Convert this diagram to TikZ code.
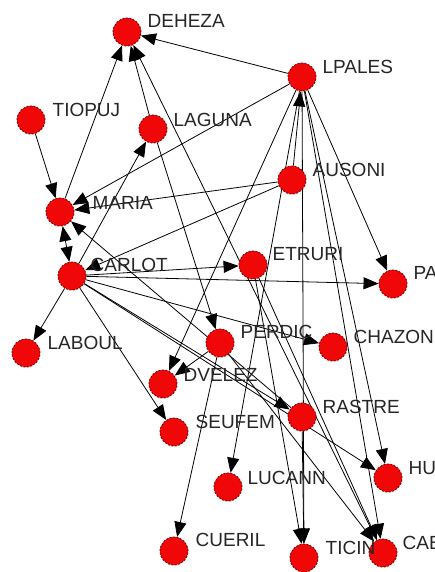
\documentclass[tikz,border=0pt]{standalone}
\usepackage{fontspec}
\setmainfont{Liberation Sans}
\usetikzlibrary{arrows.meta, positioning, backgrounds}
\definecolor{nodered}{RGB}{240, 8, 8}
\definecolor{noderim}{RGB}{135, 0, 0}
\tikzset{
  actor/.style={circle, fill=nodered, draw=noderim, line width=0.9pt,
    dash pattern=on 2pt off 1.5pt, minimum size=28pt, inner sep=0pt},
  tag/.style={font=\fontsize{19}{19}\selectfont, text=black!85, inner sep=0pt},
  tie/.style={draw=black, line width=0.8pt, -{Triangle[length=15pt, width=12pt]}},
  tiepair/.style={draw=black, line width=0.8pt,
    {Triangle[length=15pt, width=12pt]}-{Triangle[length=15pt, width=12pt]}},
}
\begin{document}
\begin{tikzpicture}[x=1pt, y=-1pt]
  \useasboundingbox (0,0) rectangle (435,572);

  % actors
  \node[actor] (deheza) at (127, 32) {};
  \node[actor] (lpales) at (302, 77) {};
  \node[actor] (tiopuj) at ( 31,120) {};
  \node[actor] (laguna) at (153,129) {};
  \node[actor] (ausoni) at (292,180) {};
  \node[actor] (maria)  at ( 60,212) {};
  \node[actor] (carlot) at ( 72,276) {};
  \node[actor] (etruri) at (253,265) {};
  \node[actor] (pa)     at (393,284) {};
  \node[actor] (laboul) at ( 26,353) {};
  \node[actor] (perdic) at (220,343) {};
  \node[actor] (chazon) at (333,347) {};
  \node[actor] (dvelez) at (163,384) {};
  \node[actor] (seufem) at (174,432) {};
  \node[actor] (rastre) at (302,417) {};
  \node[actor] (hu)     at (388,478) {};
  \node[actor] (lucann) at (228,487) {};
  \node[actor] (cueril) at (174,551) {};
  \node[actor] (ticin)  at (304,558) {};
  \node[actor] (cab)    at (383,553) {};

  % names
  \node[tag, right=6pt of deheza, yshift=11pt] (deheza-t) {DEHEZA};
  \node[tag, right=6pt of lpales, yshift=10pt] (lpales-t) {LPALES};
  \node[tag, right=7pt of tiopuj, yshift=10pt] (tiopuj-t) {TIOPUJ};
  \node[tag, right=6pt of laguna, yshift=9pt]  (laguna-t) {LAGUNA};
  \node[tag, right=6pt of ausoni, yshift=10pt] (ausoni-t) {AUSONI};
  \node[tag, right=18pt of maria, yshift=9pt]  (maria-t)  {MARIA};
  \node[tag, right=4pt of carlot, yshift=11pt] (carlot-t) {CARLOT};
  \node[tag, right=5pt of etruri, yshift=11pt] (etruri-t) {ETRURI};
  \node[tag, right=6pt of pa, yshift=11pt]     (pa-t)     {PA};
  \node[tag, right=7pt of laboul, yshift=10pt] (laboul-t) {LABOUL};
  \node[tag, right=6pt of perdic, yshift=11pt] (perdic-t) {PERDIC};
  \node[tag, right=6pt of chazon, yshift=10pt] (chazon-t) {CHAZON};
  \node[tag, right=6pt of dvelez, yshift=9pt]  (dvelez-t) {DVELEZ};
  \node[tag, right=7pt of seufem, yshift=10pt] (seufem-t) {SEUFEM};
  \node[tag, right=6pt of rastre, yshift=10pt] (rastre-t) {RASTRE};
  \node[tag, right=6pt of hu, yshift=10pt]     (hu-t)     {HU};
  \node[tag, right=5pt of lucann, yshift=9pt]  (lucann-t) {LUCANN};
  \node[tag, right=7pt of cueril, yshift=11pt] (cueril-t) {CUERIL};
  \node[tag, right=7pt of ticin, yshift=10pt]  (ticin-t)  {TICIN};
  \node[tag, right=5pt of cab, yshift=10pt]    (cab-t)    {CAB};

  % ties
  \begin{scope}[on background layer]
    \fill[white] (0,0) rectangle (435,572);
    \draw[tie] (lpales) -- (deheza);
    \draw[tie] (tiopuj) -- (maria);
    \draw[tie] (maria)  -- (deheza);
    \draw[tie] (laguna) -- (deheza);
    \draw[tie] (cab)    -- (deheza);
    \draw[tie] (etruri) -- (cab);
    \draw[tie] (laguna) -- (perdic);
    \draw[tie] (carlot) -- (laguna);
    \draw[tie] (lpales) -- (maria);
    \draw[tie] (ausoni) -- (maria);
    \draw[tie] (ausoni) -- (carlot);
    \draw[tie] (rastre) -- (maria);
    \draw[tiepair] (maria) -- (carlot);
    \draw[tie] (carlot) -- (etruri);
    \draw[tie] (carlot) -- (pa);
    \draw[tie] (carlot) -- (laboul);
    \draw[tie] (carlot) -- (seufem);
    \draw[tie] (carlot) -- (chazon);
    \draw[tie] (carlot) -- (rastre);
    \draw[tie] (carlot) -- (hu);
    \draw[tie] (ausoni) -- (lpales);
    \draw[tie] (lpales) -- (dvelez);
    \draw[tie] (lpales) -- (lucann);
    \draw[tie] (lpales) -- (ticin);
    \draw[tie] (lpales) -- (pa);
    \draw[tie] (lpales) -- (hu);
    \draw[tie] (lpales) -- (cab);
    \draw[tie] (perdic) -- (dvelez);
    \draw[tie] (perdic) -- (cueril);
    \draw[tie] (perdic) -- (cab);
    \draw[tie] (rastre) -- (ticin);
    \draw[tie] (etruri) -- (ticin);
  \end{scope}
\end{tikzpicture}
\end{document}
